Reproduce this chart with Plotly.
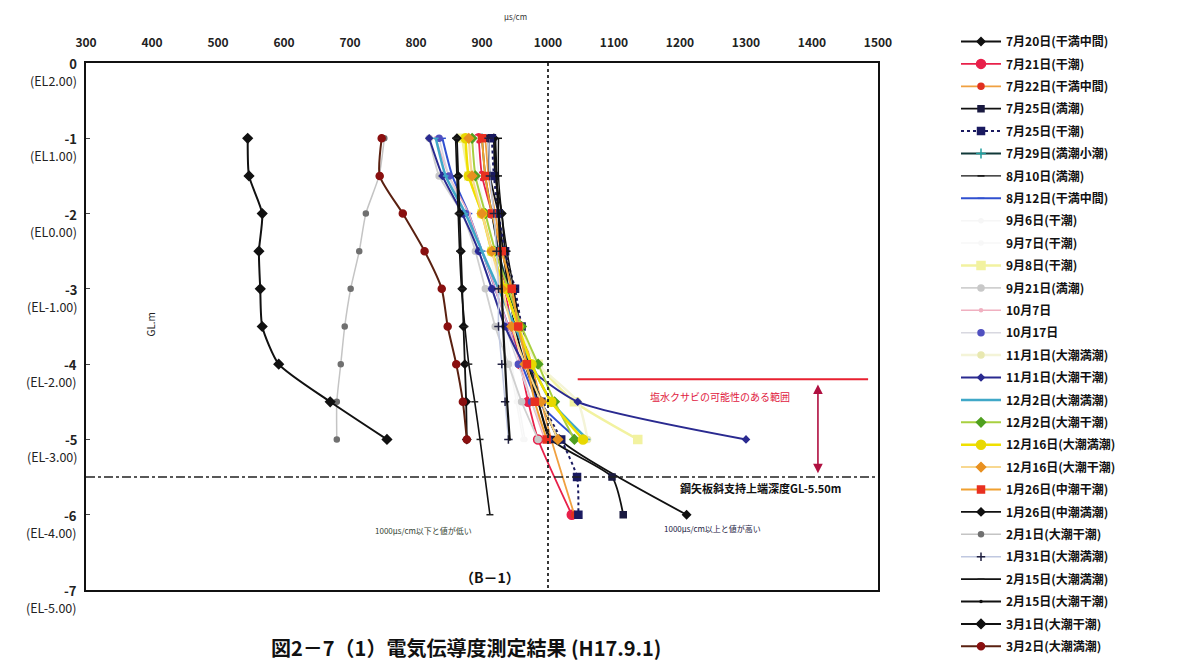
import plotly.graph_objects as go

# ---------------- data ----------------
DEPTH_9 = [-1, -1.5, -2, -2.5, -3, -3.5, -4, -4.5, -5]
DEPTH_10 = [-1, -1.5, -2, -2.5, -3, -3.5, -4, -4.5, -5, -6]
DEPTH_11 = [-1, -1.5, -2, -2.5, -3, -3.5, -4, -4.5, -5, -5.5, -6]

LABELS = ["7月20日(干満中間)", "7月21日(干潮)", "7月22日(干満中間)", "7月25日(満潮)",
          "7月25日(干潮)", "7月29日(満潮小潮)", "8月10日(満潮)", "8月12日(干満中間)",
          "9月6日(干潮)", "9月7日(干潮)", "9月8日(干潮)", "9月21日(満潮)",
          "10月7日", "10月17日", "11月1日(大潮満潮)", "11月1日(大潮干潮)",
          "12月2日(大潮満潮)", "12月2日(大潮干潮)", "12月16日(大潮満潮)", "12月16日(大潮干潮)",
          "1月26日(中潮干潮)", "1月26日(中潮満潮)", "2月1日(大潮干潮)", "1月31日(大潮満潮)",
          "2月15日(大潮満潮)", "2月15日(大潮干潮)", "3月1日(大潮干潮)", "3月2日(大潮満潮)"]

v_0720 = [918, 920, 930, 935, 945, 955, 972, 990, 1018, 1210]
v_0721 = [895, 900, 915, 925, 935, 945, 958, 970, 985, 1036]
v_0722 = [905, 910, 920, 930, 945, 960, 975, 990, 1005, 1040]
v_0725a = [910, 912, 925, 932, 940, 950, 965, 985, 1005, 1097, 1114]
v_0725b = [915, 918, 925, 935, 950, 960, 972, 990, 1020, 1044, 1046]
v_0729 = [900, 905, 915, 925, 940, 955, 970, 990, 1015]
v_0810 = [925, 925, 930, 938, 948, 958, 970, 985, 1000]
v_0812 = [840, 855, 880, 900, 920, 940, 960, 985, 1045]
v_0906 = [890, 895, 905, 915, 925, 935, 945, 955, 965]
v_0907 = [885, 890, 900, 912, 922, 932, 942, 952, 962]
v_0908 = [870, 880, 900, 915, 935, 955, 985, 1040, 1136]
v_0921 = [820, 835, 870, 890, 905, 920, 940, 960, 985]
v_1007 = [830, 850, 880, 900, 920, 940, 958, 975, 995]
v_1017 = [835, 850, 875, 895, 915, 935, 955, 975, 1000]
v_1101a = [880, 885, 900, 915, 935, 955, 985, 1045, 1060]
v_1101b = [820, 840, 870, 895, 915, 935, 965, 1045, 1300]
v_1202a = [830, 845, 875, 900, 925, 950, 975, 1005, 1060]
v_1202b = [885, 890, 905, 920, 940, 960, 985, 1010, 1040]
v_1216a = [875, 880, 900, 915, 935, 955, 975, 1005, 1053]
v_1216b = [880, 885, 900, 915, 930, 945, 965, 990, 1015]
v_0126a = [900, 905, 915, 930, 945, 955, 968, 980, 998]
v_0126b = [862, 864, 866, 868, 870, 872, 874, 876, 877]
v_0201 = [752, 744, 724, 714, 701, 692, 686, 680, 680]
v_0131 = [910, 912, 918, 922, 925, 925, 930, 935, 940]
v_0215a = [860, 862, 864, 866, 869, 874, 880, 889, 897, 912]
v_0215b = [920, 922, 925, 928, 930, 932, 935, 938, 942]
v_0301 = [545, 547, 567, 562, 564, 567, 592, 670, 756]
v_0302 = [748, 745, 780, 813, 839, 848, 861, 871, 877]

VALUES = [v_0720, v_0721, v_0722, v_0725a, v_0725b, v_0729, v_0810, v_0812,
          v_0906, v_0907, v_0908, v_0921, v_1007, v_1017, v_1101a, v_1101b,
          v_1202a, v_1202b, v_1216a, v_1216b, v_0126a, v_0126b, v_0201, v_0131,
          v_0215a, v_0215b, v_0301, v_0302]

Y_TICKS = [0, -1, -2, -3, -4, -5, -6, -7]
Y_TICK_EL = ["(EL2.00)", "(EL1.00)", "(EL0.00)", "(EL-1.00)", "(EL-2.00)",
             "(EL-3.00)", "(EL-4.00)", "(EL-5.00)"]

# ---------------- styles ----------------
# (line color, marker color, marker symbol, marker size, line width, dash)
STYLES = [
    ("#111111", "#111111", "diamond", 6, 1.8, "solid"),
    ("#e8204a", "#e8204a", "circle", 9, 1.8, "solid"),
    ("#f0a040", "#e03020", "circle", 6, 1.8, "solid"),
    ("#111111", "#1a1a40", "square", 6, 1.8, "solid"),
    ("#1a1a60", "#1a1a60", "square", 7, 2.0, "dot"),
    ("#103838", "#20a0a0", "cross-thin-open", 7, 1.8, "solid"),
    ("#111111", "#111111", "line-ew-open", 5, 1.4, "solid"),
    ("#3050d0", "#3050d0", "line-ew-open", 5, 2.0, "solid"),
    ("#f6f6f6", "#f6f6f6", "circle", 4, 1.5, "solid"),
    ("#f7f7f7", "#f7f7f7", "circle", 4, 1.5, "solid"),
    ("#f2f2a0", "#f2f2a0", "square", 8, 2.5, "solid"),
    ("#d0d0d0", "#c8c8c8", "circle", 6, 1.8, "solid"),
    ("#f0b0c0", "#f0b0c0", "circle", 3, 1.5, "solid"),
    ("#d8d8e0", "#5050c0", "circle", 6, 1.5, "solid"),
    ("#f4f4d8", "#e8e8b0", "circle", 6, 2.5, "solid"),
    ("#2a2a90", "#2a2a90", "diamond", 5, 2.0, "solid"),
    ("#40a8c8", "#40a8c8", "line-ew-open", 4, 2.5, "solid"),
    ("#a8d040", "#50a020", "diamond", 7, 2.0, "solid"),
    ("#f0e000", "#e8d800", "circle", 9, 2.5, "solid"),
    ("#f8d890", "#e89020", "diamond", 7, 2.0, "solid"),
    ("#f0a030", "#e83020", "square", 7, 2.0, "solid"),
    ("#111111", "#111111", "diamond", 6, 1.8, "solid"),
    ("#c4c4c4", "#707070", "circle", 5, 1.5, "solid"),
    ("#c0c8e0", "#202040", "cross-thin-open", 6, 1.5, "solid"),
    ("#111111", "#222222", "line-ew-open", 5, 1.6, "solid"),
    ("#111111", "#111111", "circle", 1, 2.2, "solid"),
    ("#111111", "#111111", "diamond", 7, 2.0, "solid"),
    ("#5a2010", "#8a1010", "circle", 7, 2.0, "solid"),
]

fig = go.Figure()
for i, (lab, vals) in enumerate(zip(LABELS, VALUES)):
    lc, mc, sym, ms, lw, dash = STYLES[i]
    depths = {9: DEPTH_9, 10: DEPTH_10, 11: DEPTH_11}[len(vals)]
    fig.add_trace(go.Scatter(
        x=vals, y=depths, name=lab, mode="lines+markers",
        legendgroup=f"g{i}",
        line=dict(color=lc, width=lw, dash=dash, shape="spline", smoothing=0.6),
        marker=dict(color=mc, symbol=sym, size=ms,
                    line=dict(color=mc, width=1.5)),
    ))

FONT = "Noto Sans CJK JP"

fig.update_layout(
    width=1188, height=661, autosize=False,
    margin=dict(l=86, r=310, t=63, b=71),
    paper_bgcolor="white", plot_bgcolor="white",
    font=dict(family=FONT, color="#111111"),
    showlegend=True,
    legend=dict(x=(956 - 86) / 792, y=(590 - 31) / 527, xanchor="left", yanchor="top",
                font=dict(family=FONT, size=12, color="#111111", weight="bold"),
                tracegroupgap=3.4, itemwidth=40, bgcolor="rgba(0,0,0,0)",
                maxheight=720),
    xaxis=dict(range=[300, 1500], side="top", dtick=100, tick0=300,
               showgrid=False, zeroline=False, showline=True, mirror=True,
               linecolor="#111111", linewidth=2, ticks="", ticklabelstandoff=9,
               tickfont=dict(family=FONT, size=12, color="#222222", weight="bold")),
    yaxis=dict(range=[-7, 0], dtick=1, showgrid=False, zeroline=False,
               showline=True, mirror=True, linecolor="#111111", linewidth=2,
               ticks="inside", ticklen=4, showticklabels=False),
)

# reference lines
fig.add_shape(type="line", x0=1000, x1=1000, y0=0, y1=-7, xref="x", yref="y",
              line=dict(color="#222222", width=1.8, dash="dot"))
fig.add_shape(type="line", x0=300, x1=1500, y0=-5.5, y1=-5.5, xref="x", yref="y",
              line=dict(color="#222222", width=1.6, dash="dashdot"))
fig.add_shape(type="line", x0=1045, x1=1485, y0=-4.2, y1=-4.2, xref="x", yref="y",
              line=dict(color="#e82030", width=2))
fig.add_annotation(x=1409, y=-5.45, ax=1409, ay=-4.25, xref="x", yref="y",
                   axref="x", ayref="y", text="", showarrow=True,
                   arrowhead=2, arrowside="end+start", arrowsize=1.2,
                   arrowwidth=1.6, arrowcolor="#b01040")

# y tick labels (depth + elevation)
for t, el in zip(Y_TICKS, Y_TICK_EL):
    fig.add_annotation(x=0, y=t, xref="paper", yref="y", xanchor="right",
                       yanchor="top", xshift=-7, yshift=11, showarrow=False,
                       align="right",
                       text=f"<b>{t}</b><br><span style='font-size:12.5px'>{el}</span>",
                       font=dict(family=FONT, size=13, color="#222222"))

ann = [
    dict(text="μs/cm", x=(515 - 86) / 792, y=(590 - 16) / 527, size=8, color="#333333", bold=False),
    dict(text="塩水クサビの可能性のある範囲", x=(720 - 86) / 792, y=(590 - 396) / 527, size=10, color="#e02040", bold=False),
    dict(text="鋼矢板斜支持上端深度GL-5.50m", x=(760 - 86) / 792, y=(590 - 488) / 527, size=11, color="#111111", bold=True),
    dict(text="1000μs/cm以上と値が高い", x=(712 - 86) / 792, y=(590 - 528) / 527, size=8, color="#222244", bold=False),
    dict(text="1000μs/cm以下と値が低い", x=(423 - 86) / 792, y=(590 - 530) / 527, size=8, color="#334433", bold=False),
    dict(text="（B－1）", x=(490 - 86) / 792, y=(590 - 577) / 527, size=14, color="#111111", bold=True),
    dict(text="図2－7（1）電気伝導度測定結果 (H17.9.1)", x=(466 - 86) / 792, y=(590 - 647) / 527, size=20, color="#111111", bold=True),
]
for a in ann:
    fig.add_annotation(x=a["x"], y=a["y"], xref="paper", yref="paper",
                       text=a["text"], showarrow=False,
                       xanchor="center", yanchor="middle",
                       font=dict(family=FONT, size=a["size"], color=a["color"],
                                 weight="bold" if a["bold"] else "normal"))

fig.add_annotation(x=(140 - 86) / 792, y=(590 - 325) / 527, xref="paper", yref="paper",
                   text="GL.m", textangle=-90, showarrow=False,
                   font=dict(family=FONT, size=10, color="#222222"))

fig.write_html("out.html")
